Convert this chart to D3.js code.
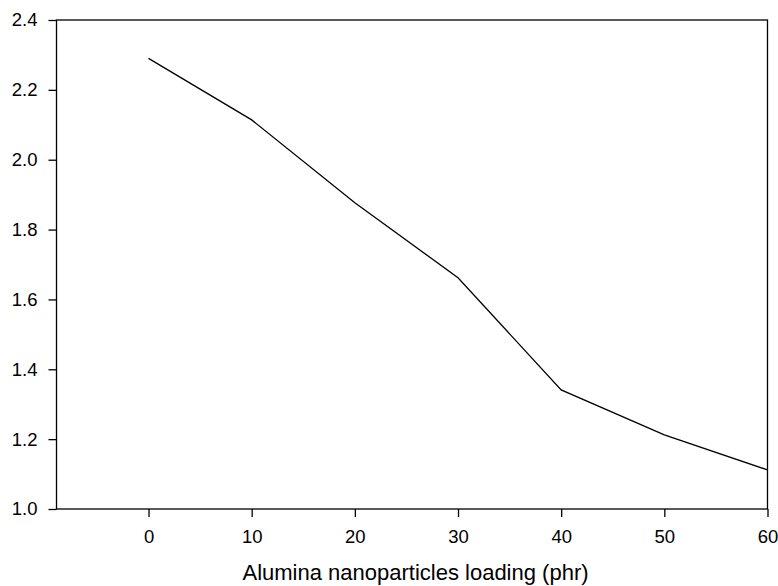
<!DOCTYPE html>
<html>
<head>
<meta charset="utf-8">
<script src="https://cdn.jsdelivr.net/npm/d3@7"></script>
<style>
  body { margin: 0; background: #fff; }
  text { font-family: "Liberation Sans", Arial, sans-serif; }
</style>
</head>
<body>
<div id="chart"></div>
<script>
// data
var loading = [0, 10, 20, 30, 40, 50, 60];
var values = [2.29, 2.114, 1.877, 1.662, 1.341, 1.212, 1.112];
var xTicks = [0, 10, 20, 30, 40, 50, 60];
var yTicks = [1.0, 1.2, 1.4, 1.6, 1.8, 2.0, 2.2, 2.4];
var xLabel = "Alumina nanoparticles loading (phr)";

var margin = {top: 20, right: 10.5, bottom: 77, left: 56.5},
    width = 778 - margin.left - margin.right,
    height = 586 - margin.top - margin.bottom;

var svg = d3.select("#chart")
    .append("svg")
    .attr("width", 778)
    .attr("height", 586)
    .append("g")
    .attr("transform", "translate(" + margin.left + "," + margin.top + ")");

var x = d3.scaleLinear()
    .domain([-8.92, 60])
    .range([0, width]);

var y = d3.scaleLinear()
    .domain([1.0, 2.4])
    .range([height, 0]);

// frame
svg.append("rect")
    .attr("x", 0).attr("y", 0)
    .attr("width", width).attr("height", height)
    .attr("fill", "none")
    .attr("stroke", "#000")
    .attr("stroke-width", 1.3);

// x axis
var xAxis = svg.append("g")
    .attr("transform", "translate(0," + height + ")")
    .call(d3.axisBottom(x).tickValues(xTicks).tickSize(8).tickPadding(13).tickFormat(d3.format("d")));
xAxis.select(".domain").remove();
xAxis.selectAll("line").attr("stroke-width", 1.3);
xAxis.selectAll("text").style("font-size", "18.5px").attr("fill", "#000");

// y axis
var yAxis = svg.append("g")
    .call(d3.axisLeft(y).tickValues(yTicks).tickSize(8).tickPadding(11).tickFormat(d3.format(".1f")));
yAxis.select(".domain").remove();
yAxis.selectAll("line").attr("stroke-width", 1.3);
yAxis.selectAll("text").style("font-size", "18.5px").attr("fill", "#000");

// line
var line = d3.line()
    .x(function(d, i) { return x(loading[i]); })
    .y(function(d) { return y(d); });

svg.append("path")
    .datum(values)
    .attr("fill", "none")
    .attr("stroke", "#000")
    .attr("stroke-width", 1.3)
    .attr("d", line);

// x axis title
svg.append("text")
    .attr("x", 415.5 - margin.left)
    .attr("y", height + 71)
    .attr("text-anchor", "middle")
    .style("font-size", "22px")
    .text(xLabel);
</script>
</body>
</html>
